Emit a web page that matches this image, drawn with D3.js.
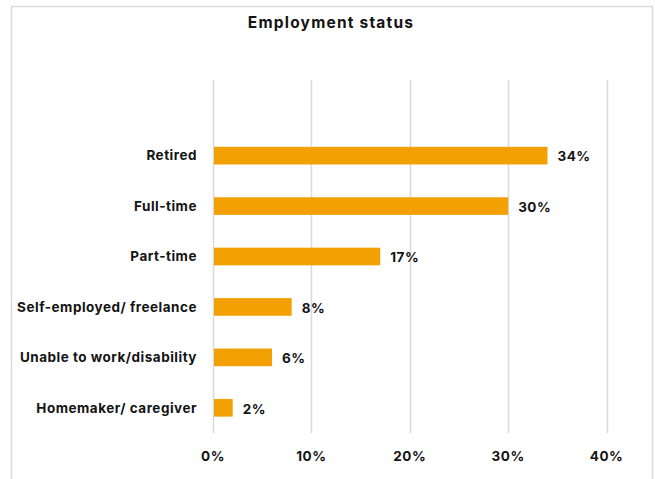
<!DOCTYPE html>
<html>
<head>
<meta charset="utf-8">
<script src="https://cdn.jsdelivr.net/npm/d3@7"></script>
<style>
  html, body { margin: 0; padding: 0; background: #fff; }
  svg { display: block; }
  text { font-family: "Inter", "Noto Sans", sans-serif; font-weight: 700; fill: #141414; }
</style>
</head>
<body>
<svg id="chart" width="655" height="479"></svg>
<script>
// Employment status shares (percent)
const categories = ["Retired", "Full-time", "Part-time", "Self-employed/ freelance", "Unable to work/disability", "Homemaker/ caregiver"];
const values = [34, 30, 17, 8, 6, 2];
const tickValues = [0, 10, 20, 30, 40];
const title = "Employment status";

const svg = d3.select("#chart");

// Outer frame
svg.append("rect")
  .attr("x", 11.5).attr("y", 6.5)
  .attr("width", 641).attr("height", 480)
  .attr("fill", "#fff")
  .attr("stroke", "#d9d9d9").attr("stroke-width", 1.5);

const x = d3.scaleLinear().domain([0, 40]).range([213, 606.5]);
// An empty leading slot keeps the gridlines extending above the first bar
const y = d3.scaleBand().domain(["", ...categories]).range([80, 433]).paddingInner(0.65).paddingOuter(0.325);

// Gridlines
svg.append("g")
  .selectAll("line")
  .data(tickValues)
  .join("line")
  .attr("x1", d => Math.round(x(d)) + 0.5)
  .attr("x2", d => Math.round(x(d)) + 0.5)
  .attr("y1", 80).attr("y2", 433)
  .attr("stroke", "#d9d9d9").attr("stroke-width", 1.5);

// Bars
svg.append("g")
  .selectAll("rect")
  .data(categories)
  .join("rect")
  .attr("x", x(0) + 1)
  .attr("y", d => y(d))
  .attr("width", (d, i) => x(values[i]) - x(0) - 1)
  .attr("height", y.bandwidth())
  .attr("fill", "#f2a003");

// Value labels
svg.append("g")
  .selectAll("text")
  .data(categories)
  .join("text")
  .attr("x", (d, i) => x(values[i]) + 10)
  .attr("y", d => y(d) + y.bandwidth() / 2 + 1)
  .attr("dy", "0.35em")
  .attr("font-size", 13.5)
  .attr("letter-spacing", 0.5)
  .text((d, i) => values[i] + "%");

// Category axis labels
svg.append("g")
  .selectAll("text")
  .data(categories)
  .join("text")
  .attr("x", 197)
  .attr("y", d => y(d) + y.bandwidth() / 2)
  .attr("dy", "0.35em")
  .attr("text-anchor", "end")
  .attr("font-size", 13.5)
  .attr("letter-spacing", 0.5)
  .text(d => d);

// Value axis tick labels
svg.append("g")
  .selectAll("text")
  .data(tickValues)
  .join("text")
  .attr("x", d => x(d))
  .attr("y", 456)
  .attr("dy", "0.35em")
  .attr("text-anchor", "middle")
  .attr("font-size", 13.5)
  .attr("letter-spacing", 0.5)
  .text(d => d + "%");

// Title
svg.append("text")
  .attr("x", 331)
  .attr("y", 23)
  .attr("dy", "0.35em")
  .attr("text-anchor", "middle")
  .attr("font-size", 15.5)
  .attr("letter-spacing", 1.2)
  .text(title);
</script>
</body>
</html>
